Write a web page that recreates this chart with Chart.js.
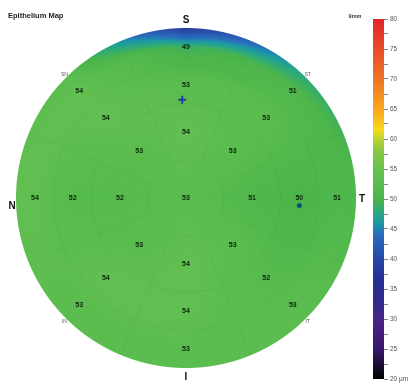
<!DOCTYPE html>
<html>
<head>
<meta charset="utf-8">
<script src="https://cdn.jsdelivr.net/npm/chart.js@4.4.1/dist/chart.umd.min.js"></script>
<style>
  html, body { margin: 0; padding: 0; background: #ffffff; }
  #wrap { width: 416px; height: 385px; position: relative; }
</style>
</head>
<body>
<div id="wrap"><canvas id="chart"></canvas></div>
<script>
// Epithelial thickness (µm) per zone, sectors clockwise from superior
const sectorNames = ['S', 'ST', 'T', 'IT', 'I', 'IN', 'N', 'SN'];
const centralValue = 53;
const innerRing  = [54, 53, 51, 53, 54, 53, 52, 53];   // 2–5 mm
const middleRing = [53, 53, 50, 52, 54, 54, 52, 54];   // 5–7 mm
const outerRing  = [49, 51, 51, 53, 53, 53, 54, 54];   // 7–9 mm
const rimRing    = [38, 48, 51, 53, 53, 53, 54, 53];   // thickness at the 9 mm edge
const zoneRadii  = [1, 2.5, 3.5, 4.5];                  // zone boundaries, mm
const labelRadii = [1.75, 3.0, 4.0];                    // zone mid radii, mm
const thickestPoint = [{ x: -0.1, y: 2.6 }];
const thinnestPoint = [{ x: 3.0, y: -0.2 }];
const colorbarTicks = [80, 75, 70, 65, 60, 55, 50, 45, 40, 35, 30, 25, 20];
const colorStops = [
  [20, '#000000'], [22, '#160a2c'], [25, '#38176c'], [30, '#4a2588'], [33, '#302b8c'],
  [37, '#273196'], [41, '#2851aa'], [44, '#2a6cbe'], [46, '#1c98a6'], [48, '#2daa7a'],
  [50, '#4ab44b'], [55, '#66c251'], [58, '#88c642'], [60, '#bcd234'], [61.5, '#f9d81c'],
  [64, '#f8b21e'], [67, '#f59222'], [70, '#f07426'], [75, '#ea4a28'], [80, '#e3242a']
];

const FONT = "'Liberation Sans', Arial, sans-serif";
const MAP_R = 4.5;

function hexRgb(h) {
  return [parseInt(h.slice(1, 3), 16), parseInt(h.slice(3, 5), 16), parseInt(h.slice(5, 7), 16)];
}
const stopRgb = colorStops.map(s => [s[0], hexRgb(s[1])]);
function colorFor(v) {
  if (v <= stopRgb[0][0]) return stopRgb[0][1];
  for (let i = 1; i < stopRgb.length; i++) {
    if (v <= stopRgb[i][0]) {
      const a = stopRgb[i - 1], b = stopRgb[i];
      const f = (v - a[0]) / (b[0] - a[0]);
      return [0, 1, 2].map(k => a[1][k] + (b[1][k] - a[1][k]) * f);
    }
  }
  return stopRgb[stopRgb.length - 1][1];
}

// value of one ring at an angle (degrees clockwise from superior)
function ringAt(arr, deg) {
  const s = (((deg % 360) + 360) % 360) / 45;
  const k = Math.floor(s), f = s - k;
  return arr[k % 8] * (1 - f) + arr[(k + 1) % 8] * f;
}
function thicknessAt(mx, my) {
  const r = Math.hypot(mx, my);
  const deg = Math.atan2(mx, my) * 180 / Math.PI;
  const rs = [0, labelRadii[0], labelRadii[1], labelRadii[2], MAP_R];
  const vs = [centralValue, ringAt(innerRing, deg), ringAt(middleRing, deg), ringAt(outerRing, deg), ringAt(rimRing, deg)];
  for (let i = 1; i < rs.length; i++) {
    if (r <= rs[i]) {
      const f = (r - rs[i - 1]) / (rs[i] - rs[i - 1]);
      return vs[i - 1] + (vs[i] - vs[i - 1]) * f;
    }
  }
  return vs[vs.length - 1];
}

// zone label anchors
const zoneLabels = [{ x: 0, y: 0, v: centralValue }];
[innerRing, middleRing, outerRing].forEach((ring, ri) => {
  ring.forEach((v, k) => {
    const a = k * 45 * Math.PI / 180;
    zoneLabels.push({ x: labelRadii[ri] * Math.sin(a), y: labelRadii[ri] * Math.cos(a), v });
  });
});

const thicknessMap = {
  id: 'thicknessMap',
  beforeDatasetsDraw(chart) {
    const { ctx, scales: { x, y } } = chart;
    const cx = x.getPixelForValue(0), cy = y.getPixelForValue(0);
    const R = x.getPixelForValue(MAP_R) - cx;
    const x0 = Math.floor(cx - R - 2), y0 = Math.floor(cy - R - 2);
    const w = Math.ceil(2 * R + 4), h = w;
    const off = document.createElement('canvas');
    off.width = w; off.height = h;
    const octx = off.getContext('2d');
    const img = octx.createImageData(w, h);
    for (let j = 0; j < h; j++) {
      for (let i = 0; i < w; i++) {
        const px = x0 + i + 0.5, py = y0 + j + 0.5;
        const dpx = Math.hypot(px - cx, py - cy);
        const alpha = Math.max(0, Math.min(1, R - dpx + 0.5));
        if (alpha <= 0) continue;
        const mx = x.getValueForPixel(px), my = y.getValueForPixel(py);
        const c = colorFor(thicknessAt(mx, my));
        const o = (j * w + i) * 4;
        img.data[o] = c[0]; img.data[o + 1] = c[1]; img.data[o + 2] = c[2];
        img.data[o + 3] = Math.round(alpha * 255);
      }
    }
    octx.putImageData(img, 0, 0);
    ctx.save();
    ctx.drawImage(off, x0, y0);

    // faint zone outlines
    ctx.strokeStyle = 'rgba(30,100,30,0.08)';
    ctx.lineWidth = 1;
    zoneRadii.slice(0, 3).forEach(r => {
      const rp = x.getPixelForValue(r) - cx;
      ctx.beginPath(); ctx.arc(cx, cy, rp, 0, Math.PI * 2); ctx.stroke();
    });
    for (let k = 0; k < 8; k++) {
      const a = (22.5 + k * 45) * Math.PI / 180;
      ctx.beginPath();
      ctx.moveTo(x.getPixelForValue(zoneRadii[0] * Math.sin(a)), y.getPixelForValue(zoneRadii[0] * Math.cos(a)));
      ctx.lineTo(x.getPixelForValue(MAP_R * Math.sin(a)), y.getPixelForValue(MAP_R * Math.cos(a)));
      ctx.stroke();
    }
    ctx.restore();
  },
  afterDatasetsDraw(chart) {
    const { ctx, scales: { x, y, cb } } = chart;
    const cx = x.getPixelForValue(0), cy = y.getPixelForValue(0);
    const R = x.getPixelForValue(MAP_R) - cx;
    ctx.save();
    ctx.textAlign = 'center';
    ctx.textBaseline = 'middle';

    // zone values
    ctx.fillStyle = '#0c260c';
    ctx.font = 'bold 7px ' + FONT;
    chart.getDatasetMeta(0).data.forEach((pt, i) => {
      ctx.fillText(String(zoneLabels[i].v), pt.x, pt.y);
    });

    // orientation letters
    ctx.fillStyle = '#111111';
    ctx.font = 'bold 10px ' + FONT;
    ctx.fillText('S', cx, cy - R - 8);
    ctx.fillText('I', cx, cy + R + 9);
    ctx.fillText('N', cx - R - 4, cy + 8);
    ctx.fillText('T', cx + R + 6, cy + 1);

    ctx.fillStyle = '#555555';
    ctx.font = '5px ' + FONT;
    [['SN', -1, -1], ['ST', 1, -1], ['IN', -1, 1], ['IT', 1, 1]].forEach(([t, sx, sy]) => {
      const d = (R + 2) / Math.SQRT2;
      ctx.fillText(t, cx + sx * d, cy + sy * (d + 2));
    });

    // title
    ctx.textAlign = 'left';
    ctx.fillStyle = '#222222';
    ctx.font = 'bold 7.5px ' + FONT;
    ctx.fillText('Epithelium Map', 8, 16);

    // colour bar
    const top = cb.getPixelForValue(80), bot = cb.getPixelForValue(20);
    const bx = cb.left - 11, bw = 11;
    const g = ctx.createLinearGradient(0, top, 0, bot);
    colorStops.forEach(([v, c]) => g.addColorStop((80 - v) / 60, c));
    ctx.fillStyle = g;
    ctx.fillRect(bx, top, bw, bot - top);
    ctx.fillStyle = '#333333';
    ctx.font = 'bold 5.5px ' + FONT;
    ctx.textAlign = 'center';
    ctx.fillText('9mm', bx - 18, top - 3);
    ctx.restore();
  }
};

new Chart(document.getElementById('chart'), {
  type: 'scatter',
  data: {
    datasets: [
      { data: zoneLabels.map(p => ({ x: p.x, y: p.y })), pointRadius: 0, pointHoverRadius: 0 },
      { data: thickestPoint, pointStyle: 'cross', pointRadius: 4, borderWidth: 2, borderColor: '#1d3f9e', backgroundColor: '#1d3f9e' },
      { data: thinnestPoint, pointStyle: 'circle', pointRadius: 2.5, borderWidth: 0, backgroundColor: '#0b4f78' }
    ]
  },
  options: {
    responsive: true,
    maintainAspectRatio: false,
    animation: false,
    events: [],
    layout: { padding: { left: 16, top: 19, bottom: 6, right: 0 } },
    plugins: { legend: { display: false }, tooltip: { enabled: false }, title: { display: false } },
    scales: {
      x: { type: 'linear', display: false, min: -4.5, max: 5.241 },
      y: { type: 'linear', display: false, min: -4.791, max: 4.738 },
      cb: {
        type: 'linear', position: 'right', axis: 'y', min: 20, max: 80,
        afterBuildTicks(scale) {
          const t = [];
          colorbarTicks.forEach((v, i) => {
            t.push({ value: v });
            if (i < colorbarTicks.length - 1) t.push({ value: (v + colorbarTicks[i + 1]) / 2 });
          });
          scale.ticks = t;
        },
        afterFit(scale) { scale.width = 32; },
        grid: { drawOnChartArea: false, drawTicks: true, tickLength: 4, color: '#666666', lineWidth: 0.8 },
        border: { display: false },
        ticks: {
          autoSkip: false, padding: 2, color: '#555555',
          font: { size: 6.5, family: FONT },
          callback(v) {
            if (!colorbarTicks.includes(v)) return '';
            return v === 20 ? '20 µm' : String(v);
          }
        }
      }
    }
  },
  plugins: [thicknessMap]
});
</script>
</body>
</html>
